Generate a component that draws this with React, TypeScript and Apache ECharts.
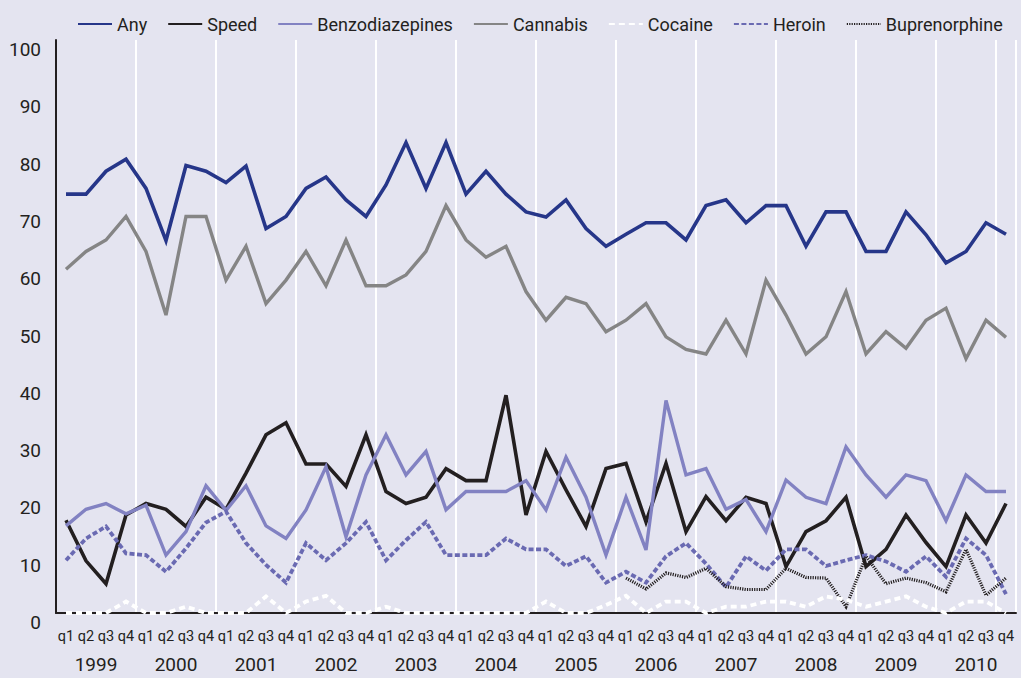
import React, { useEffect, useRef } from "react";
import * as echarts from "echarts";

const quarters = ["q1", "q2", "q3", "q4"];
const years = ["1999", "2000", "2001", "2002", "2003", "2004", "2005", "2006", "2007", "2008", "2009", "2010"];
const categories: string[] = years.flatMap((y) => quarters.map((q) => q));

const anyData = [
  73.1, 73.1, 77.1, 79.2, 74.1, 65.0, 78.1, 77.1, 75.1, 78.0, 67.1, 69.2,
  74.1, 76.1, 72.1, 69.2, 74.7, 82.1, 74.1, 82.1, 73.1, 77.1, 73.1, 70.0,
  69.1, 72.1, 67.1, 64.0, 66.1, 68.1, 68.1, 65.1, 71.1, 72.1, 68.1, 71.1,
  71.1, 64.0, 70.0, 70.0, 63.1, 63.1, 70.0, 66.0, 61.1, 63.1, 68.1, 66.1,
];
const speedData = [
  16.2, 9.1, 5.1, 17.1, 19.1, 18.1, 15.1, 20.2, 18.1, 24.4, 31.1, 33.2,
  26.0, 26.0, 22.1, 31.1, 21.2, 19.1, 20.2, 25.2, 23.1, 23.1, 38.0, 17.1,
  28.2, 21.5, 15.1, 25.2, 26.1, 15.9, 26.1, 14.2, 20.3, 16.1, 20.2, 19.1,
  8.1, 14.2, 16.1, 20.2, 8.1, 11.1, 17.1, 12.3, 8.1, 17.1, 12.2, 19.1,
];
const benzoData = [
  15.2, 18.1, 19.1, 17.3, 18.8, 10.1, 14.2, 22.2, 17.9, 22.2, 15.2, 13.0,
  18.0, 25.5, 13.3, 24.1, 31.1, 24.1, 28.2, 18.0, 21.2, 21.2, 21.2, 23.1,
  18.0, 27.2, 20.2, 10.1, 20.2, 11.0, 37.1, 24.1, 25.2, 18.1, 19.8, 14.2,
  23.2, 20.2, 19.1, 29.0, 24.1, 20.2, 24.1, 23.1, 16.1, 24.1, 21.2, 21.2,
];
const cannabisData = [
  60.0, 63.1, 65.1, 69.2, 63.1, 52.0, 69.2, 69.2, 58.1, 64.0, 54.0, 58.1,
  63.1, 57.1, 65.1, 57.1, 57.1, 59.0, 63.1, 71.1, 65.1, 62.1, 64.0, 56.1,
  51.1, 55.1, 54.0, 49.1, 51.1, 54.0, 48.2, 46.0, 45.2, 51.1, 45.2, 58.1,
  52.0, 45.2, 48.2, 56.1, 45.2, 49.1, 46.2, 51.1, 53.2, 44.4, 51.1, 48.1,
];
const cocaineData = [
  0, 0, 0, 2.0, 0, 0, 1.1, 0, 0, 0, 2.9, 0,
  2.0, 3.0, 0, 0, 1.1, 0, 0, 0, 0, 0, 0, 0,
  2.0, 0, 0, 1.4, 3.0, 0, 2.0, 2.0, 0, 1.1, 1.1, 2.0,
  2.0, 1.1, 2.9, 2.3, 1.1, 2.0, 2.9, 1.1, 0, 2.0, 2.0, 0,
];
const heroinData = [
  9.2, 13.0, 15.1, 10.4, 10.1, 7.2, 11.3, 15.8, 17.7, 12.2, 8.4, 5.3,
  12.2, 9.2, 12.2, 15.9, 9.2, 12.7, 15.9, 10.1, 10.1, 10.1, 13.0, 11.1,
  11.1, 8.2, 9.9, 5.3, 7.2, 5.3, 9.9, 12.2, 8.6, 4.5, 9.9, 7.4,
  11.1, 11.1, 8.2, 9.2, 10.1, 9.0, 7.2, 9.9, 6.3, 13.0, 10.1, 3.3,
];
const buprenorphineData: (number | null)[] = [
  null, null, null, null, null, null, null, null, null, null, null, null,
  null, null, null, null, null, null, null, null, null, null, null, null,
  null, null, null, null, 6.1, 4.2, 7.0, 6.2, 7.8, 4.6, 4.1, 4.1,
  7.8, 6.2, 6.1, 1.1, 9.9, 5.1, 6.1, 5.3, 3.7, 11.1, 3.1, 6.1,
];
const yTicks = { min: 0, max: 100, interval: 10 };

const FONT = "Roboto, 'Liberation Sans', sans-serif";
const TEXT = "#231f20";
const BG = "#e4e4f0";

export default function App() {
  const ref = useRef<HTMLDivElement>(null);
  useEffect(() => {
    document.body.style.margin = "0";
    document.body.style.background = BG;
    if (!ref.current) return;
    const chart = echarts.init(ref.current, undefined, { renderer: "svg" });
    const line = (name: string, data: (number | null)[], color: string, width: number, type: any, z: number) => ({
      name,
      type: "line",
      data,
      showSymbol: false,
      symbol: "none",
      xAxisIndex: 0,
      z,
      lineStyle: { color, width, type, cap: "butt", join: "miter" },
      itemStyle: { color },
    });
    chart.setOption({
      animation: false,
      backgroundColor: BG,
      textStyle: { fontFamily: FONT, color: TEXT },
      legend: {
        top: 10,
        left: 72,
        itemWidth: 34,
        itemHeight: 14,
        itemGap: 20,
        itemStyle: { opacity: 0 },
        lineStyle: { opacity: 1 },
        textStyle: { fontFamily: FONT, fontSize: 18, color: TEXT },
        data: ["Any", "Speed", "Benzodiazepines", "Cannabis", "Cocaine", "Heroin", "Buprenorphine"],
      },
      grid: { left: 56, right: 5, top: 40, bottom: 65, containLabel: false },
      xAxis: [
        {
          type: "category",
          data: categories,
          boundaryGap: true,
          axisLine: { show: true, onZero: false, lineStyle: { color: TEXT, width: 2 } },
          axisTick: { show: false },
          axisLabel: { interval: 0, margin: 16, fontSize: 14.5, color: TEXT, fontFamily: FONT },
          splitLine: { show: true, interval: 3, showMinLine: false, lineStyle: { color: "#ffffff", width: 2 } },
        },
        {
          type: "category",
          data: years,
          position: "bottom",
          boundaryGap: true,
          axisLine: { show: false },
          axisTick: { show: false },
          splitLine: { show: false },
          axisLabel: { interval: 0, margin: 42, fontSize: 19, color: TEXT, fontFamily: FONT },
        },
      ],
      yAxis: {
        type: "value",
        min: yTicks.min,
        max: yTicks.max,
        interval: yTicks.interval,
        axisLine: { show: true, lineStyle: { color: TEXT, width: 2 } },
        axisTick: { show: false },
        splitLine: { show: false },
        axisLabel: { margin: 15, fontSize: 19, color: TEXT, fontFamily: FONT, verticalAlign: "top" },
      },
      series: [
        line("Any", anyData, "#263689", 3.6, "solid", 2),
        line("Speed", speedData, "#231f20", 3.6, "solid", 2),
        line("Benzodiazepines", benzoData, "#8282c2", 3.4, "solid", 2),
        line("Cannabis", cannabisData, "#858585", 3.4, "solid", 2),
        line("Cocaine", cocaineData, "#ffffff", 3.8, [6, 4], 3),
        line("Heroin", heroinData, "#6a6ab2", 3.8, [5, 2.5], 2),
        line("Buprenorphine", buprenorphineData, "#231f20", 3.2, [1.2, 1.2], 2),
      ],
    });
    return () => chart.dispose();
  }, []);
  return <div ref={ref} style={{ width: 1021, height: 678, background: BG }} />;
}
